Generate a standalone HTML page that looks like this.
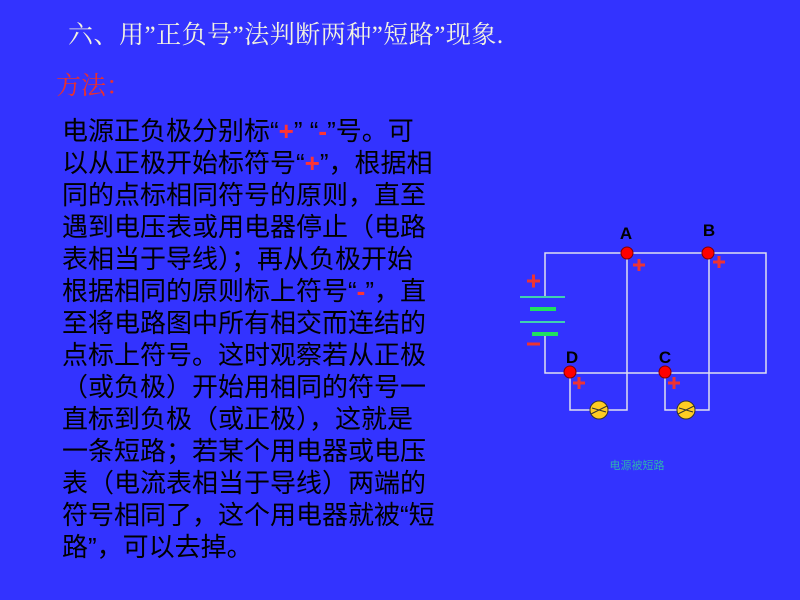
<!DOCTYPE html>
<html><head><meta charset="utf-8"><style>
html,body{margin:0;padding:0}
body{width:800px;height:600px;background:#3333FF;position:relative;overflow:hidden;font-family:"Liberation Serif","Noto Serif CJK SC","Noto Sans CJK SC",serif}
.t{position:absolute;white-space:nowrap}
.p{position:absolute;left:62px;font-size:26px;color:#000;line-height:32px;font-family:"Liberation Sans","Noto Sans CJK SC",sans-serif}
.r{color:#FF3333;font-weight:bold}
</style></head><body>
<div class="t" style="left:68px;top:15px;font-size:25px;letter-spacing:0.5px;color:#F4F4E0">六、用”正负号”法判断两种”短路”现象.</div>
<div class="t" style="left:56px;top:66px;font-size:25px;color:#E83030">方法：</div>
<div class="p" style="top:115px">
<div>电源正负极分别标“<span class="r">+</span>” “<span class="r">-</span>”号。可</div>
<div>以从正极开始标符号“<span class="r">+</span>”，根据相</div>
<div>同的点标相同符号的原则，直至</div>
<div>遇到电压表或用电器停止（电路</div>
<div>表相当于导线）；再从负极开始</div>
<div>根据相同的原则标上符号“<span class="r">-</span>”，直</div>
<div>至将电路图中所有相交而连结的</div>
<div>点标上符号。这时观察若从正极</div>
<div>（或负极）开始用相同的符号一</div>
<div>直标到负极（或正极），这就是</div>
<div>一条短路；若某个用电器或电压</div>
<div>表（电流表相当于导线）两端的</div>
<div>符号相同了，这个用电器就被“短</div>
<div>路”，可以去掉。</div>
</div>
<svg width="800" height="600" style="position:absolute;left:0;top:0">
<g stroke="#E0E0F0" stroke-width="1.5" fill="none">
<polyline points="545,297 545,253 766,253 766,373 545,373 545,334"/>
<polyline points="627,253 627,410 570,410 570,372"/>
<polyline points="709,253 709,410 665,410 665,372"/>
</g>
<line x1="520" y1="297" x2="565" y2="297" stroke="#40D0B0" stroke-width="2"/>
<line x1="530" y1="309" x2="556" y2="309" stroke="#20E060" stroke-width="4"/>
<line x1="520" y1="322" x2="565" y2="322" stroke="#40D0B0" stroke-width="2"/>
<line x1="532" y1="334" x2="558" y2="334" stroke="#20E060" stroke-width="4"/>
<g fill="#FF0000" stroke="#800000" stroke-width="1">
<circle cx="627" cy="253" r="6"/><circle cx="708" cy="253" r="6"/>
<circle cx="570" cy="372" r="6"/><circle cx="665" cy="372" r="6"/>
</g>
<g fill="#FFCC22" stroke="#333" stroke-width="1">
<circle cx="599" cy="410" r="9"/><circle cx="686" cy="410" r="9"/>
</g>
<g stroke="#333" stroke-width="1">
<line x1="591" y1="414" x2="607" y2="406"/><line x1="592" y1="408" x2="606" y2="412"/>
<line x1="678" y1="414" x2="694" y2="406"/><line x1="679" y1="408" x2="693" y2="412"/>
</g>
<g font-family="Liberation Sans,sans-serif" font-weight="bold" font-size="17" fill="#000" text-anchor="middle">
<text x="626" y="239">A</text><text x="709" y="236">B</text>
<text x="572" y="363">D</text><text x="665" y="363">C</text>
</g>
<g stroke="#EE3333" stroke-width="3">
<path d="M527,281h13M533.5,274.5v13"/>
<path d="M633,265h12M639,259v12"/>
<path d="M713,262h12M719,256v12"/>
<path d="M573,383h12M579,377v12"/>
<path d="M668,383h12M674,377v12"/>
<path d="M527,344h13"/>
</g>
<text x="637" y="469" font-size="11" fill="#30B0B0" text-anchor="middle" font-family="Liberation Sans,Noto Sans CJK SC,sans-serif">电源被短路</text>
</svg>
</body></html>
